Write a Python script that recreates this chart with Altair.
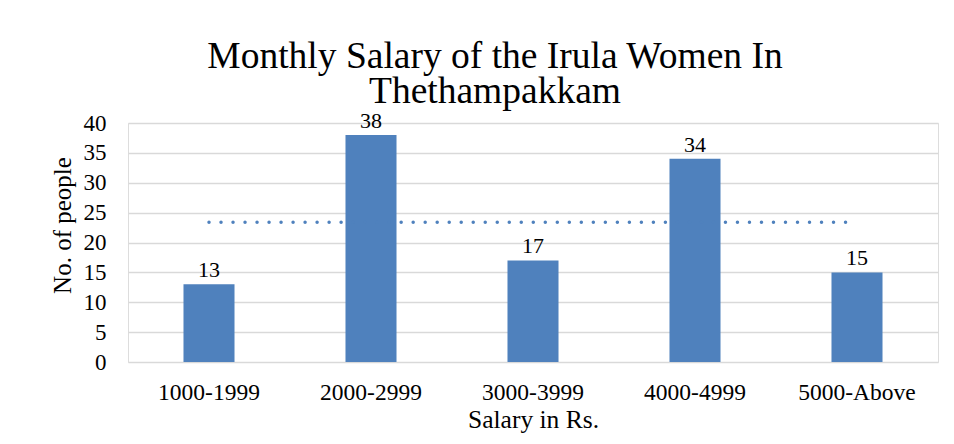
import altair as alt
import pandas as pd
import numpy as np

categories = ["1000-1999", "2000-2999", "3000-3999", "4000-4999", "5000-Above"]
values = [13, 38, 17, 34, 15]
y_ticks = [0, 5, 10, 15, 20, 25, 30, 35, 40]

title_lines = ["Monthly Salary of the Irula Women In", "Thethampakkam"]
x_title = "Salary in Rs."
y_title = "No. of people"

BLUE = "#4f81bd"
GRID = "#d9d9d9"
FONT = "Liberation Serif"

df = pd.DataFrame({"cat": categories, "val": values})
trend = pd.DataFrame({"a": [categories[0]], "b": [categories[-1]], "m": [float(np.mean(values))]})

xscale = alt.Scale(domain=categories, paddingInner=0.685, paddingOuter=0.3425)
yscale = alt.Scale(domain=[0, 40], nice=False)

xaxis = alt.Axis(title=x_title, labelAngle=0, ticks=False, domain=False,
                 labelPadding=18, labelFontSize=23.5, titleFontSize=25.5,
                 titleY=45, titleBaseline="top", labelFont=FONT, titleFont=FONT,
                 labelOverlap=False,
                 labelColor="#000000", titleColor="#000000", titleFontWeight="normal")
yaxis = alt.Axis(title=y_title, values=y_ticks, ticks=False, domain=False,
                 gridColor=GRID, gridWidth=1.5, labelPadding=22,
                 labelOverlap=False, tickCount=9,
                 labelFontSize=23, titleFontSize=25, labelFont=FONT, titleFont=FONT,
                 titleX=-66, titleY=102, titleAlign="center", titleBaseline="middle",
                 labelColor="#000000", titleColor="#000000", titleFontWeight="normal")

base = alt.Chart(df)

bars = base.mark_bar(color=BLUE).encode(
    x=alt.X("cat:N", scale=xscale, sort=categories, axis=xaxis),
    y=alt.Y("val:Q", scale=yscale, axis=yaxis),
)

labels = base.mark_text(font=FONT, fontSize=22, color="#000000", baseline="alphabetic", dy=-7).encode(
    x=alt.X("cat:N", scale=xscale, sort=categories, axis=xaxis),
    y=alt.Y("val:Q", scale=yscale, axis=yaxis),
    text=alt.Text("val:Q"),
)

rule = alt.Chart(trend).mark_rule(color=BLUE, strokeWidth=3.5, strokeDash=[0.01, 12],
                                  strokeCap="round").encode(
    x=alt.X("a:N", scale=xscale, bandPosition=0.5, axis=xaxis),
    x2=alt.X2("b:N", bandPosition=0.5),
    y=alt.Y("m:Q", scale=yscale, axis=yaxis),
)

chart = alt.layer(bars, rule, labels).properties(
    width=810,
    height=239,
    autosize=alt.AutoSizeParams(type="none"),
    padding={"left": 120, "top": 115, "right": 8, "bottom": 72},
    title=alt.Title(title_lines, font=FONT, fontSize=37.5, fontWeight="normal", color="#000000",
                    anchor="middle", dx=-38, lineHeight=35, offset=-31, baseline="alphabetic"),
).configure_view(stroke=None).configure(background="white")

chart.save("out.html", embed_options={"renderer": "svg", "actions": False})
